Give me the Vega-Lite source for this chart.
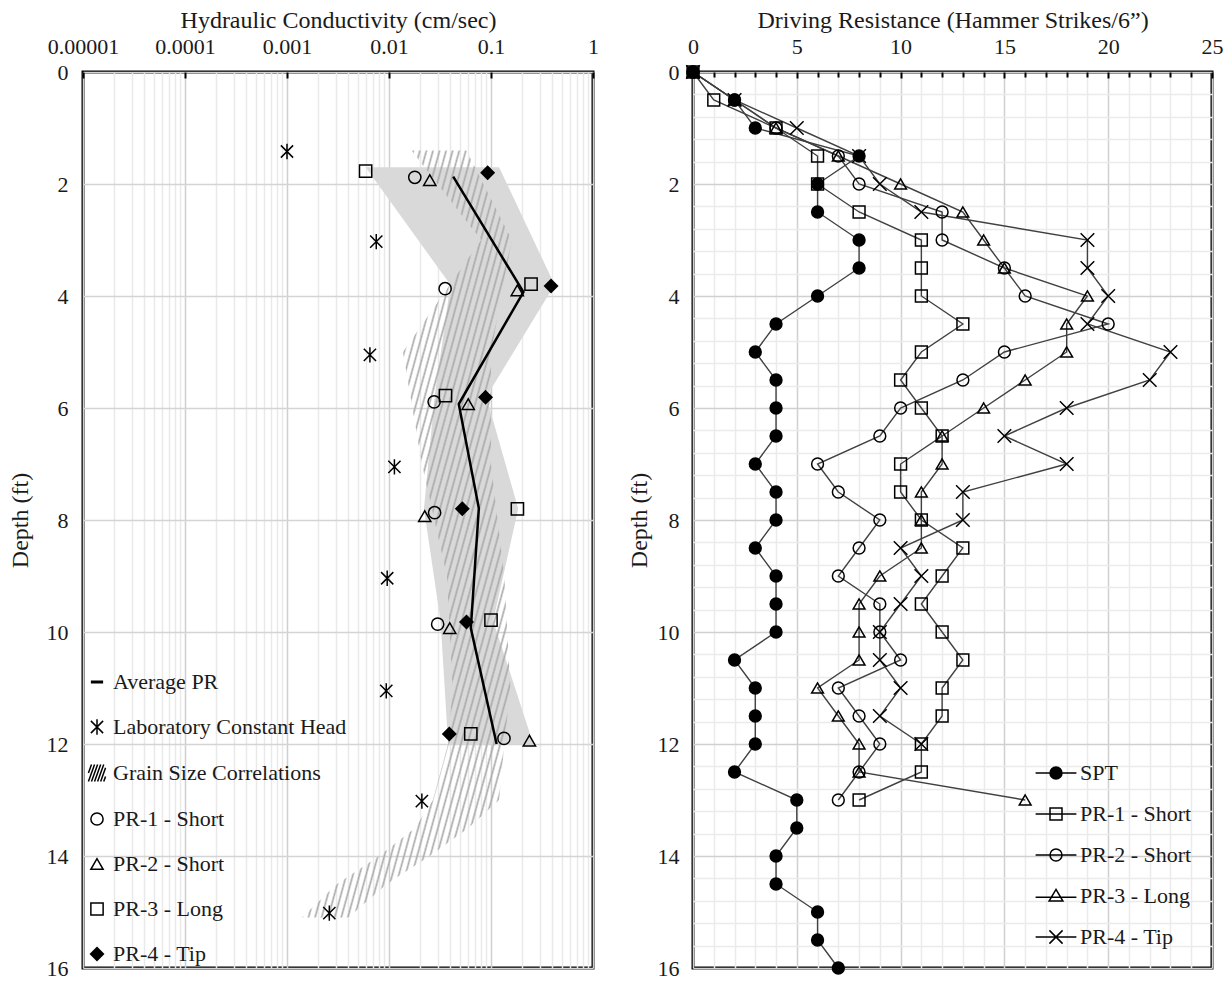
{
  "$schema": "https://vega.github.io/schema/vega-lite/v6.json",
  "padding": {"left": 6, "top": 6, "right": 4, "bottom": 4},
  "background": "white",
  "config": {
    "font": "Liberation Serif",
    "view": {"stroke": "black", "strokeWidth": 3},
    "axis": {"labelFont": "Liberation Serif", "titleFont": "Liberation Serif", "labelFontSize": 22, "titleFontSize": 24, "titleFontWeight": "normal", "labelColor": "#1a1a1a", "titleColor": "#1a1a1a", "domain": false, "labelOverlap": false, "labelFlush": false},
    "legend": {"labelFont": "Liberation Serif", "labelFontSize": 22, "labelColor": "#1a1a1a", "labelLimit": 500, "padding": 0},
    "concat": {"spacing": 25}
  },
  "datasets": {
    "prRange": [
      {"depth": 1.7, "lo": 0.0059, "hi": 0.12},
      {"depth": 3.8, "lo": 0.04, "hi": 0.42},
      {"depth": 5.8, "lo": 0.028, "hi": 0.09},
      {"depth": 7.8, "lo": 0.022, "hi": 0.185},
      {"depth": 9.8, "lo": 0.032, "hi": 0.105},
      {"depth": 12.0, "lo": 0.038, "hi": 0.26}
    ],
    "grain": [
      {"depth": 1.4, "lo": 0.0166, "hi": 0.0575},
      {"depth": 3.0, "lo": 0.08, "hi": 0.16},
      {"depth": 5.0, "lo": 0.0137, "hi": 0.1},
      {"depth": 7.0, "lo": 0.021, "hi": 0.1},
      {"depth": 9.0, "lo": 0.037, "hi": 0.135},
      {"depth": 11.0, "lo": 0.042, "hi": 0.155},
      {"depth": 12.0, "lo": 0.038, "hi": 0.135},
      {"depth": 13.0, "lo": 0.027, "hi": 0.12},
      {"depth": 13.5, "lo": 0.018, "hi": 0.06},
      {"depth": 14.0, "lo": 0.008, "hi": 0.025},
      {"depth": 14.5, "lo": 0.0031, "hi": 0.0095},
      {"depth": 15.1, "lo": 0.0014, "hi": 0.004}
    ],
    "avg": [
      {"depth": 1.87, "k": 0.0426},
      {"depth": 3.93, "k": 0.208},
      {"depth": 5.93, "k": 0.0483},
      {"depth": 7.79, "k": 0.076},
      {"depth": 9.93, "k": 0.0634},
      {"depth": 12.0, "k": 0.1135}
    ],
    "leftPts": [
      {"series": "Laboratory Constant Head", "depth": 1.42, "k": 0.001},
      {"series": "Laboratory Constant Head", "depth": 3.03, "k": 0.0075},
      {"series": "Laboratory Constant Head", "depth": 5.05, "k": 0.0065},
      {"series": "Laboratory Constant Head", "depth": 7.05, "k": 0.0113},
      {"series": "Laboratory Constant Head", "depth": 9.04, "k": 0.0096},
      {"series": "Laboratory Constant Head", "depth": 11.05, "k": 0.0094},
      {"series": "Laboratory Constant Head", "depth": 13.02, "k": 0.021},
      {"series": "Laboratory Constant Head", "depth": 15.02, "k": 0.0026},
      {"series": "PR-1 - Short", "depth": 1.88, "k": 0.0179},
      {"series": "PR-1 - Short", "depth": 3.87, "k": 0.0355},
      {"series": "PR-1 - Short", "depth": 5.89, "k": 0.0277},
      {"series": "PR-1 - Short", "depth": 7.87, "k": 0.028},
      {"series": "PR-1 - Short", "depth": 9.86, "k": 0.030},
      {"series": "PR-1 - Short", "depth": 11.9, "k": 0.134},
      {"series": "PR-2 - Short", "depth": 1.93, "k": 0.0251},
      {"series": "PR-2 - Short", "depth": 3.9, "k": 0.181},
      {"series": "PR-2 - Short", "depth": 5.93, "k": 0.0598},
      {"series": "PR-2 - Short", "depth": 7.93, "k": 0.0224},
      {"series": "PR-2 - Short", "depth": 9.93, "k": 0.0394},
      {"series": "PR-2 - Short", "depth": 11.94, "k": 0.238},
      {"series": "PR-3 - Long", "depth": 1.77, "k": 0.0059},
      {"series": "PR-3 - Long", "depth": 3.79, "k": 0.247},
      {"series": "PR-3 - Long", "depth": 5.78, "k": 0.0358},
      {"series": "PR-3 - Long", "depth": 7.8, "k": 0.1815},
      {"series": "PR-3 - Long", "depth": 9.79, "k": 0.1},
      {"series": "PR-3 - Long", "depth": 11.82, "k": 0.0634},
      {"series": "PR-4 - Tip", "depth": 1.8, "k": 0.0927},
      {"series": "PR-4 - Tip", "depth": 3.82, "k": 0.388},
      {"series": "PR-4 - Tip", "depth": 5.81, "k": 0.0885},
      {"series": "PR-4 - Tip", "depth": 7.8, "k": 0.0523},
      {"series": "PR-4 - Tip", "depth": 9.82, "k": 0.0575},
      {"series": "PR-4 - Tip", "depth": 11.82, "k": 0.039}
    ],
    "right": [
      {"series": "SPT", "depth": 0, "v": 0}, {"series": "SPT", "depth": 0.5, "v": 2}, {"series": "SPT", "depth": 1, "v": 3}, {"series": "SPT", "depth": 1.5, "v": 8},
      {"series": "SPT", "depth": 2, "v": 6}, {"series": "SPT", "depth": 2.5, "v": 6}, {"series": "SPT", "depth": 3, "v": 8}, {"series": "SPT", "depth": 3.5, "v": 8},
      {"series": "SPT", "depth": 4, "v": 6}, {"series": "SPT", "depth": 4.5, "v": 4}, {"series": "SPT", "depth": 5, "v": 3}, {"series": "SPT", "depth": 5.5, "v": 4},
      {"series": "SPT", "depth": 6, "v": 4}, {"series": "SPT", "depth": 6.5, "v": 4}, {"series": "SPT", "depth": 7, "v": 3}, {"series": "SPT", "depth": 7.5, "v": 4},
      {"series": "SPT", "depth": 8, "v": 4}, {"series": "SPT", "depth": 8.5, "v": 3}, {"series": "SPT", "depth": 9, "v": 4}, {"series": "SPT", "depth": 9.5, "v": 4},
      {"series": "SPT", "depth": 10, "v": 4}, {"series": "SPT", "depth": 10.5, "v": 2}, {"series": "SPT", "depth": 11, "v": 3}, {"series": "SPT", "depth": 11.5, "v": 3},
      {"series": "SPT", "depth": 12, "v": 3}, {"series": "SPT", "depth": 12.5, "v": 2}, {"series": "SPT", "depth": 13, "v": 5}, {"series": "SPT", "depth": 13.5, "v": 5},
      {"series": "SPT", "depth": 14, "v": 4}, {"series": "SPT", "depth": 14.5, "v": 4}, {"series": "SPT", "depth": 15, "v": 6}, {"series": "SPT", "depth": 15.5, "v": 6},
      {"series": "SPT", "depth": 16, "v": 7},
      {"series": "PR-1 - Short", "depth": 0, "v": 0}, {"series": "PR-1 - Short", "depth": 0.5, "v": 1}, {"series": "PR-1 - Short", "depth": 1, "v": 4}, {"series": "PR-1 - Short", "depth": 1.5, "v": 6},
      {"series": "PR-1 - Short", "depth": 2, "v": 6}, {"series": "PR-1 - Short", "depth": 2.5, "v": 8}, {"series": "PR-1 - Short", "depth": 3, "v": 11}, {"series": "PR-1 - Short", "depth": 3.5, "v": 11},
      {"series": "PR-1 - Short", "depth": 4, "v": 11}, {"series": "PR-1 - Short", "depth": 4.5, "v": 13}, {"series": "PR-1 - Short", "depth": 5, "v": 11}, {"series": "PR-1 - Short", "depth": 5.5, "v": 10},
      {"series": "PR-1 - Short", "depth": 6, "v": 11}, {"series": "PR-1 - Short", "depth": 6.5, "v": 12}, {"series": "PR-1 - Short", "depth": 7, "v": 10}, {"series": "PR-1 - Short", "depth": 7.5, "v": 10},
      {"series": "PR-1 - Short", "depth": 8, "v": 11}, {"series": "PR-1 - Short", "depth": 8.5, "v": 13}, {"series": "PR-1 - Short", "depth": 9, "v": 12}, {"series": "PR-1 - Short", "depth": 9.5, "v": 11},
      {"series": "PR-1 - Short", "depth": 10, "v": 12}, {"series": "PR-1 - Short", "depth": 10.5, "v": 13}, {"series": "PR-1 - Short", "depth": 11, "v": 12}, {"series": "PR-1 - Short", "depth": 11.5, "v": 12},
      {"series": "PR-1 - Short", "depth": 12, "v": 11}, {"series": "PR-1 - Short", "depth": 12.5, "v": 11}, {"series": "PR-1 - Short", "depth": 13, "v": 8},
      {"series": "PR-2 - Short", "depth": 0, "v": 0}, {"series": "PR-2 - Short", "depth": 0.5, "v": 2}, {"series": "PR-2 - Short", "depth": 1, "v": 4}, {"series": "PR-2 - Short", "depth": 1.5, "v": 7},
      {"series": "PR-2 - Short", "depth": 2, "v": 8}, {"series": "PR-2 - Short", "depth": 2.5, "v": 12}, {"series": "PR-2 - Short", "depth": 3, "v": 12}, {"series": "PR-2 - Short", "depth": 3.5, "v": 15},
      {"series": "PR-2 - Short", "depth": 4, "v": 16}, {"series": "PR-2 - Short", "depth": 4.5, "v": 20}, {"series": "PR-2 - Short", "depth": 5, "v": 15}, {"series": "PR-2 - Short", "depth": 5.5, "v": 13},
      {"series": "PR-2 - Short", "depth": 6, "v": 10}, {"series": "PR-2 - Short", "depth": 6.5, "v": 9}, {"series": "PR-2 - Short", "depth": 7, "v": 6}, {"series": "PR-2 - Short", "depth": 7.5, "v": 7},
      {"series": "PR-2 - Short", "depth": 8, "v": 9}, {"series": "PR-2 - Short", "depth": 8.5, "v": 8}, {"series": "PR-2 - Short", "depth": 9, "v": 7}, {"series": "PR-2 - Short", "depth": 9.5, "v": 9},
      {"series": "PR-2 - Short", "depth": 10, "v": 9}, {"series": "PR-2 - Short", "depth": 10.5, "v": 10}, {"series": "PR-2 - Short", "depth": 11, "v": 7}, {"series": "PR-2 - Short", "depth": 11.5, "v": 8},
      {"series": "PR-2 - Short", "depth": 12, "v": 9}, {"series": "PR-2 - Short", "depth": 12.5, "v": 8}, {"series": "PR-2 - Short", "depth": 13, "v": 7},
      {"series": "PR-3 - Long", "depth": 0, "v": 0}, {"series": "PR-3 - Long", "depth": 0.5, "v": 2}, {"series": "PR-3 - Long", "depth": 1, "v": 4}, {"series": "PR-3 - Long", "depth": 1.5, "v": 7},
      {"series": "PR-3 - Long", "depth": 2, "v": 10}, {"series": "PR-3 - Long", "depth": 2.5, "v": 13}, {"series": "PR-3 - Long", "depth": 3, "v": 14}, {"series": "PR-3 - Long", "depth": 3.5, "v": 15},
      {"series": "PR-3 - Long", "depth": 4, "v": 19}, {"series": "PR-3 - Long", "depth": 4.5, "v": 18}, {"series": "PR-3 - Long", "depth": 5, "v": 18}, {"series": "PR-3 - Long", "depth": 5.5, "v": 16},
      {"series": "PR-3 - Long", "depth": 6, "v": 14}, {"series": "PR-3 - Long", "depth": 6.5, "v": 12}, {"series": "PR-3 - Long", "depth": 7, "v": 12}, {"series": "PR-3 - Long", "depth": 7.5, "v": 11},
      {"series": "PR-3 - Long", "depth": 8, "v": 11}, {"series": "PR-3 - Long", "depth": 8.5, "v": 11}, {"series": "PR-3 - Long", "depth": 9, "v": 9}, {"series": "PR-3 - Long", "depth": 9.5, "v": 8},
      {"series": "PR-3 - Long", "depth": 10, "v": 8}, {"series": "PR-3 - Long", "depth": 10.5, "v": 8}, {"series": "PR-3 - Long", "depth": 11, "v": 6}, {"series": "PR-3 - Long", "depth": 11.5, "v": 7},
      {"series": "PR-3 - Long", "depth": 12, "v": 8}, {"series": "PR-3 - Long", "depth": 12.5, "v": 8}, {"series": "PR-3 - Long", "depth": 13, "v": 16},
      {"series": "PR-4 - Tip", "depth": 0, "v": 0}, {"series": "PR-4 - Tip", "depth": 0.5, "v": 2}, {"series": "PR-4 - Tip", "depth": 1, "v": 5}, {"series": "PR-4 - Tip", "depth": 1.5, "v": 8},
      {"series": "PR-4 - Tip", "depth": 2, "v": 9}, {"series": "PR-4 - Tip", "depth": 2.5, "v": 11}, {"series": "PR-4 - Tip", "depth": 3, "v": 19}, {"series": "PR-4 - Tip", "depth": 3.5, "v": 19},
      {"series": "PR-4 - Tip", "depth": 4, "v": 20}, {"series": "PR-4 - Tip", "depth": 4.5, "v": 19}, {"series": "PR-4 - Tip", "depth": 5, "v": 23}, {"series": "PR-4 - Tip", "depth": 5.5, "v": 22},
      {"series": "PR-4 - Tip", "depth": 6, "v": 18}, {"series": "PR-4 - Tip", "depth": 6.5, "v": 15}, {"series": "PR-4 - Tip", "depth": 7, "v": 18}, {"series": "PR-4 - Tip", "depth": 7.5, "v": 13},
      {"series": "PR-4 - Tip", "depth": 8, "v": 13}, {"series": "PR-4 - Tip", "depth": 8.5, "v": 10}, {"series": "PR-4 - Tip", "depth": 9, "v": 11}, {"series": "PR-4 - Tip", "depth": 9.5, "v": 10},
      {"series": "PR-4 - Tip", "depth": 10, "v": 9}, {"series": "PR-4 - Tip", "depth": 10.5, "v": 9}, {"series": "PR-4 - Tip", "depth": 11, "v": 10}, {"series": "PR-4 - Tip", "depth": 11.5, "v": 9},
      {"series": "PR-4 - Tip", "depth": 12, "v": 11}
    ]
  },
  "hconcat": [
    {
      "width": 510,
      "height": 896,
      "resolve": {"axis": {"x": "independent", "y": "independent"}},
      "layer": [
        {
          "data": {"name": "prRange"},
          "mark": {"type": "area", "orient": "horizontal", "color": "#d9d9d9", "opacity": 1},
          "encoding": {
            "y": {"field": "depth", "type": "quantitative", "scale": {"domain": [0, 16], "reverse": true, "nice": false, "zero": false},
                  "axis": {"orient": "left", "title": "Depth (ft)", "format": "d", "values": [0, 2, 4, 6, 8, 10, 12, 14, 16], "grid": true, "gridColor": "#d4d4d4", "gridWidth": 1.5, "ticks": false, "labelPadding": 15, "titlePadding": 14, "labelOverlap": false}},
            "x": {"field": "lo", "type": "quantitative", "scale": {"type": "log", "domain": [0.00001, 1], "nice": false},
                  "axis": {"orient": "top", "title": "Hydraulic Conductivity (cm/sec)", "format": ".5~f",
                           "values": [0.00001, 0.0001, 0.001, 0.01, 0.1, 1],
                           "grid": true, "gridColor": "#cfcfcf", "gridWidth": 1.5,
                           "ticks": true, "tickSize": -6, "tickColor": "black", "tickWidth": 2,
                           "labelPadding": 20, "titlePadding": 3, "labelOverlap": false}},
            "x2": {"field": "hi"}
          }
        },
        {
          "data": {"name": "grain"},
          "mark": {"type": "area", "orient": "horizontal",
                   "color": {"gradient": "linear", "x1": 0, "y1": 0, "x2": 1, "y2": 1, "stops": [
{"offset":0,"color":"#aaa"},{"offset":0.004,"color":"rgba(170,170,170,0)"},{"offset":0.0115,"color":"rgba(170,170,170,0)"},
{"offset":0.015625,"color":"#aaa"},{"offset":0.019625,"color":"rgba(170,170,170,0)"},{"offset":0.027125,"color":"rgba(170,170,170,0)"},
{"offset":0.03125,"color":"#aaa"},{"offset":0.03525,"color":"rgba(170,170,170,0)"},{"offset":0.04275,"color":"rgba(170,170,170,0)"},
{"offset":0.046875,"color":"#aaa"},{"offset":0.050875,"color":"rgba(170,170,170,0)"},{"offset":0.058375,"color":"rgba(170,170,170,0)"},
{"offset":0.0625,"color":"#aaa"},{"offset":0.0665,"color":"rgba(170,170,170,0)"},{"offset":0.074,"color":"rgba(170,170,170,0)"},
{"offset":0.078125,"color":"#aaa"},{"offset":0.082125,"color":"rgba(170,170,170,0)"},{"offset":0.089625,"color":"rgba(170,170,170,0)"},
{"offset":0.09375,"color":"#aaa"},{"offset":0.09775,"color":"rgba(170,170,170,0)"},{"offset":0.10525,"color":"rgba(170,170,170,0)"},
{"offset":0.109375,"color":"#aaa"},{"offset":0.113375,"color":"rgba(170,170,170,0)"},{"offset":0.120875,"color":"rgba(170,170,170,0)"},
{"offset":0.125,"color":"#aaa"},{"offset":0.129,"color":"rgba(170,170,170,0)"},{"offset":0.1365,"color":"rgba(170,170,170,0)"},
{"offset":0.140625,"color":"#aaa"},{"offset":0.144625,"color":"rgba(170,170,170,0)"},{"offset":0.152125,"color":"rgba(170,170,170,0)"},
{"offset":0.15625,"color":"#aaa"},{"offset":0.16025,"color":"rgba(170,170,170,0)"},{"offset":0.16775,"color":"rgba(170,170,170,0)"},
{"offset":0.171875,"color":"#aaa"},{"offset":0.175875,"color":"rgba(170,170,170,0)"},{"offset":0.183375,"color":"rgba(170,170,170,0)"},
{"offset":0.1875,"color":"#aaa"},{"offset":0.1915,"color":"rgba(170,170,170,0)"},{"offset":0.199,"color":"rgba(170,170,170,0)"},
{"offset":0.203125,"color":"#aaa"},{"offset":0.207125,"color":"rgba(170,170,170,0)"},{"offset":0.214625,"color":"rgba(170,170,170,0)"},
{"offset":0.21875,"color":"#aaa"},{"offset":0.22275,"color":"rgba(170,170,170,0)"},{"offset":0.23025,"color":"rgba(170,170,170,0)"},
{"offset":0.234375,"color":"#aaa"},{"offset":0.238375,"color":"rgba(170,170,170,0)"},{"offset":0.245875,"color":"rgba(170,170,170,0)"},
{"offset":0.25,"color":"#aaa"},{"offset":0.254,"color":"rgba(170,170,170,0)"},{"offset":0.2615,"color":"rgba(170,170,170,0)"},
{"offset":0.265625,"color":"#aaa"},{"offset":0.269625,"color":"rgba(170,170,170,0)"},{"offset":0.277125,"color":"rgba(170,170,170,0)"},
{"offset":0.28125,"color":"#aaa"},{"offset":0.28525,"color":"rgba(170,170,170,0)"},{"offset":0.29275,"color":"rgba(170,170,170,0)"},
{"offset":0.296875,"color":"#aaa"},{"offset":0.300875,"color":"rgba(170,170,170,0)"},{"offset":0.308375,"color":"rgba(170,170,170,0)"},
{"offset":0.3125,"color":"#aaa"},{"offset":0.3165,"color":"rgba(170,170,170,0)"},{"offset":0.324,"color":"rgba(170,170,170,0)"},
{"offset":0.328125,"color":"#aaa"},{"offset":0.332125,"color":"rgba(170,170,170,0)"},{"offset":0.339625,"color":"rgba(170,170,170,0)"},
{"offset":0.34375,"color":"#aaa"},{"offset":0.34775,"color":"rgba(170,170,170,0)"},{"offset":0.35525,"color":"rgba(170,170,170,0)"},
{"offset":0.359375,"color":"#aaa"},{"offset":0.363375,"color":"rgba(170,170,170,0)"},{"offset":0.370875,"color":"rgba(170,170,170,0)"},
{"offset":0.375,"color":"#aaa"},{"offset":0.379,"color":"rgba(170,170,170,0)"},{"offset":0.3865,"color":"rgba(170,170,170,0)"},
{"offset":0.390625,"color":"#aaa"},{"offset":0.394625,"color":"rgba(170,170,170,0)"},{"offset":0.402125,"color":"rgba(170,170,170,0)"},
{"offset":0.40625,"color":"#aaa"},{"offset":0.41025,"color":"rgba(170,170,170,0)"},{"offset":0.41775,"color":"rgba(170,170,170,0)"},
{"offset":0.421875,"color":"#aaa"},{"offset":0.425875,"color":"rgba(170,170,170,0)"},{"offset":0.433375,"color":"rgba(170,170,170,0)"},
{"offset":0.4375,"color":"#aaa"},{"offset":0.4415,"color":"rgba(170,170,170,0)"},{"offset":0.449,"color":"rgba(170,170,170,0)"},
{"offset":0.453125,"color":"#aaa"},{"offset":0.457125,"color":"rgba(170,170,170,0)"},{"offset":0.464625,"color":"rgba(170,170,170,0)"},
{"offset":0.46875,"color":"#aaa"},{"offset":0.47275,"color":"rgba(170,170,170,0)"},{"offset":0.48025,"color":"rgba(170,170,170,0)"},
{"offset":0.484375,"color":"#aaa"},{"offset":0.488375,"color":"rgba(170,170,170,0)"},{"offset":0.495875,"color":"rgba(170,170,170,0)"},
{"offset":0.5,"color":"#aaa"},{"offset":0.504,"color":"rgba(170,170,170,0)"},{"offset":0.5115,"color":"rgba(170,170,170,0)"},
{"offset":0.515625,"color":"#aaa"},{"offset":0.519625,"color":"rgba(170,170,170,0)"},{"offset":0.527125,"color":"rgba(170,170,170,0)"},
{"offset":0.53125,"color":"#aaa"},{"offset":0.53525,"color":"rgba(170,170,170,0)"},{"offset":0.54275,"color":"rgba(170,170,170,0)"},
{"offset":0.546875,"color":"#aaa"},{"offset":0.550875,"color":"rgba(170,170,170,0)"},{"offset":0.558375,"color":"rgba(170,170,170,0)"},
{"offset":0.5625,"color":"#aaa"},{"offset":0.5665,"color":"rgba(170,170,170,0)"},{"offset":0.574,"color":"rgba(170,170,170,0)"},
{"offset":0.578125,"color":"#aaa"},{"offset":0.582125,"color":"rgba(170,170,170,0)"},{"offset":0.589625,"color":"rgba(170,170,170,0)"},
{"offset":0.59375,"color":"#aaa"},{"offset":0.59775,"color":"rgba(170,170,170,0)"},{"offset":0.60525,"color":"rgba(170,170,170,0)"},
{"offset":0.609375,"color":"#aaa"},{"offset":0.613375,"color":"rgba(170,170,170,0)"},{"offset":0.620875,"color":"rgba(170,170,170,0)"},
{"offset":0.625,"color":"#aaa"},{"offset":0.629,"color":"rgba(170,170,170,0)"},{"offset":0.6365,"color":"rgba(170,170,170,0)"},
{"offset":0.640625,"color":"#aaa"},{"offset":0.644625,"color":"rgba(170,170,170,0)"},{"offset":0.652125,"color":"rgba(170,170,170,0)"},
{"offset":0.65625,"color":"#aaa"},{"offset":0.66025,"color":"rgba(170,170,170,0)"},{"offset":0.66775,"color":"rgba(170,170,170,0)"},
{"offset":0.671875,"color":"#aaa"},{"offset":0.675875,"color":"rgba(170,170,170,0)"},{"offset":0.683375,"color":"rgba(170,170,170,0)"},
{"offset":0.6875,"color":"#aaa"},{"offset":0.6915,"color":"rgba(170,170,170,0)"},{"offset":0.699,"color":"rgba(170,170,170,0)"},
{"offset":0.703125,"color":"#aaa"},{"offset":0.707125,"color":"rgba(170,170,170,0)"},{"offset":0.714625,"color":"rgba(170,170,170,0)"},
{"offset":0.71875,"color":"#aaa"},{"offset":0.72275,"color":"rgba(170,170,170,0)"},{"offset":0.73025,"color":"rgba(170,170,170,0)"},
{"offset":0.734375,"color":"#aaa"},{"offset":0.738375,"color":"rgba(170,170,170,0)"},{"offset":0.745875,"color":"rgba(170,170,170,0)"},
{"offset":0.75,"color":"#aaa"},{"offset":0.754,"color":"rgba(170,170,170,0)"},{"offset":0.7615,"color":"rgba(170,170,170,0)"},
{"offset":0.765625,"color":"#aaa"},{"offset":0.769625,"color":"rgba(170,170,170,0)"},{"offset":0.777125,"color":"rgba(170,170,170,0)"},
{"offset":0.78125,"color":"#aaa"},{"offset":0.78525,"color":"rgba(170,170,170,0)"},{"offset":0.79275,"color":"rgba(170,170,170,0)"},
{"offset":0.796875,"color":"#aaa"},{"offset":0.800875,"color":"rgba(170,170,170,0)"},{"offset":0.808375,"color":"rgba(170,170,170,0)"},
{"offset":0.8125,"color":"#aaa"},{"offset":0.8165,"color":"rgba(170,170,170,0)"},{"offset":0.824,"color":"rgba(170,170,170,0)"},
{"offset":0.828125,"color":"#aaa"},{"offset":0.832125,"color":"rgba(170,170,170,0)"},{"offset":0.839625,"color":"rgba(170,170,170,0)"},
{"offset":0.84375,"color":"#aaa"},{"offset":0.84775,"color":"rgba(170,170,170,0)"},{"offset":0.85525,"color":"rgba(170,170,170,0)"},
{"offset":0.859375,"color":"#aaa"},{"offset":0.863375,"color":"rgba(170,170,170,0)"},{"offset":0.870875,"color":"rgba(170,170,170,0)"},
{"offset":0.875,"color":"#aaa"},{"offset":0.879,"color":"rgba(170,170,170,0)"},{"offset":0.8865,"color":"rgba(170,170,170,0)"},
{"offset":0.890625,"color":"#aaa"},{"offset":0.894625,"color":"rgba(170,170,170,0)"},{"offset":0.902125,"color":"rgba(170,170,170,0)"},
{"offset":0.90625,"color":"#aaa"},{"offset":0.91025,"color":"rgba(170,170,170,0)"},{"offset":0.91775,"color":"rgba(170,170,170,0)"},
{"offset":0.921875,"color":"#aaa"},{"offset":0.925875,"color":"rgba(170,170,170,0)"},{"offset":0.933375,"color":"rgba(170,170,170,0)"},
{"offset":0.9375,"color":"#aaa"},{"offset":0.9415,"color":"rgba(170,170,170,0)"},{"offset":0.949,"color":"rgba(170,170,170,0)"},
{"offset":0.953125,"color":"#aaa"},{"offset":0.957125,"color":"rgba(170,170,170,0)"},{"offset":0.964625,"color":"rgba(170,170,170,0)"},
{"offset":0.96875,"color":"#aaa"},{"offset":0.97275,"color":"rgba(170,170,170,0)"},{"offset":0.98025,"color":"rgba(170,170,170,0)"},
{"offset":0.984375,"color":"#aaa"},{"offset":0.988375,"color":"rgba(170,170,170,0)"},{"offset":0.995875,"color":"rgba(170,170,170,0)"},
{"offset":1,"color":"#aaa"}
                   ]}},
          "encoding": {
            "y": {"field": "depth", "type": "quantitative", "axis": null},
            "x": {"field": "lo", "type": "quantitative",
                  "axis": {"orient": "bottom", "title": null, "labels": false, "ticks": false, "domain": false,
                           "values": [0.00002, 0.00003, 0.00004, 0.00005, 0.00006, 0.00007, 0.00008, 0.00009, 0.0002, 0.0003, 0.0004, 0.0005, 0.0006, 0.0007, 0.0008, 0.0009, 0.002, 0.003, 0.004, 0.005, 0.006, 0.007, 0.008, 0.009, 0.02, 0.03, 0.04, 0.05, 0.06, 0.07, 0.08, 0.09, 0.2, 0.3, 0.4, 0.5, 0.6, 0.7, 0.8, 0.9],
                           "grid": true, "gridColor": "#e9e9e9", "gridWidth": 1.5}},
            "x2": {"field": "hi"}
          }
        },
        {
          "data": {"name": "avg"},
          "mark": {"type": "line", "color": "black", "strokeWidth": 2.5},
          "encoding": {
            "y": {"field": "depth", "type": "quantitative", "axis": null},
            "x": {"field": "k", "type": "quantitative", "axis": null},
            "order": {"field": "depth", "type": "quantitative"}
          }
        },
        {
          "data": {"name": "leftPts"},
          "mark": {"type": "point", "opacity": 1, "filled": false, "stroke": "black", "strokeWidth": 1.5, "fill": "transparent", "size": 150},
          "encoding": {
            "y": {"field": "depth", "type": "quantitative", "axis": null},
            "x": {"field": "k", "type": "quantitative", "axis": null},
            "shape": {"field": "series", "type": "nominal",
              "scale": {"domain": ["Average PR", "Laboratory Constant Head", "Grain Size Correlations", "PR-1 - Short", "PR-2 - Short", "PR-3 - Long", "PR-4 - Tip"],
                        "range": ["M-1,-0.13L1,-0.13M-1,0.13L1,0.13M-1,0L1,0",
                                  "M-1,-1L1,1M-1,1L1,-1M0,-1.25L0,1.25",
                                  "M-1.4,0L-0.9,-1.4M-1.4,1.4L-0.4,-1.4M-0.9,1.4L0.1,-1.4M-0.4,1.4L0.6,-1.4M0.1,1.4L1.1,-1.4M0.6,1.4L1.4,-0.84M1.1,1.4L1.4,0.56",
                                  "circle", "triangle-up", "square",
                                  "M0,-1.05L1.05,0L0,1.05L-1.05,0ZM-0.25,-0.8L0.25,-0.8M-0.45,-0.6L0.45,-0.6M-0.65,-0.4L0.65,-0.4M-0.85,-0.2L0.85,-0.2M-1,0L1,0M-0.85,0.2L0.85,0.2M-0.65,0.4L0.65,0.4M-0.45,0.6L0.45,0.6M-0.25,0.8L0.25,0.8"]},
              "legend": {"title": null, "orient": "bottom-left", "offset": 3, "symbolSize": 150, "labelOffset": 5, "rowPadding": 23, "symbolOpacity": 1, "symbolStrokeWidth": 1.5, "symbolStrokeColor": "black", "symbolFillColor": "transparent"}}
          }
        }
      ]
    },
    {
      "width": 519,
      "height": 896,
      "resolve": {"scale": {"shape": "independent"}, "axis": {"x": "independent", "y": "independent"}},
      "layer": [
        {
          "data": {"name": "right"},
          "mark": {"type": "line", "color": "#404040", "strokeWidth": 1.4},
          "encoding": {
            "y": {"field": "depth", "type": "quantitative", "scale": {"domain": [0, 16], "reverse": true, "nice": false, "zero": false},
                  "axis": {"orient": "left", "title": "Depth (ft)", "format": "d",
                           "values": [0, 2, 4, 6, 8, 10, 12, 14, 16],
                           "grid": true, "gridColor": "#d0d0d0", "gridWidth": 1.5,
                           "ticks": false, "labelPadding": 14, "titlePadding": 6, "labelOverlap": false}},
            "x": {"field": "v", "type": "quantitative", "scale": {"domain": [0, 25], "nice": false, "zero": true},
                  "axis": {"orient": "top", "title": "Driving Resistance (Hammer Strikes/6”)",
                           "values": [0, 5, 10, 15, 20, 25],
                           "grid": true, "gridColor": "#d0d0d0", "gridWidth": 1.5,
                           "ticks": true, "tickSize": -6, "tickColor": "black", "tickWidth": 2,
                           "labelPadding": 20, "titlePadding": 3, "labelOverlap": false}},
            "detail": {"field": "series", "type": "nominal"},
            "order": {"field": "depth", "type": "quantitative"}
          }
        },
        {
          "data": {"name": "right"},
          "mark": {"type": "point", "stroke": "black", "strokeWidth": 1.5, "size": 140, "opacity": 1},
          "encoding": {
            "y": {"field": "depth", "type": "quantitative",
                  "axis": {"orient": "right", "title": null, "labels": false, "ticks": false, "domain": false,
                           "values": [0.4, 0.8, 1.2, 1.6, 2.4, 2.8, 3.2, 3.6, 4.4, 4.8, 5.2, 5.6, 6.4, 6.8, 7.2, 7.6, 8.4, 8.8, 9.2, 9.6, 10.4, 10.8, 11.2, 11.6, 12.4, 12.8, 13.2, 13.6, 14.4, 14.8, 15.2, 15.6],
                           "grid": true, "gridColor": "#ebebeb", "gridWidth": 1.5}},
            "x": {"field": "v", "type": "quantitative",
                  "axis": {"orient": "top", "title": null, "labels": false, "domain": false,
                           "values": [1, 2, 3, 4, 6, 7, 8, 9, 11, 12, 13, 14, 16, 17, 18, 19, 21, 22, 23, 24],
                           "grid": true, "gridColor": "#ebebeb", "gridWidth": 1.5,
                           "ticks": true, "tickSize": -5, "tickColor": "black", "tickWidth": 2}},
            "fill": {"condition": {"test": "datum.series === 'SPT'", "value": "black"}, "value": "transparent"},
            "shape": {"field": "series", "type": "nominal",
              "scale": {"domain": ["SPT", "PR-1 - Short", "PR-2 - Short", "PR-3 - Long", "PR-4 - Tip"],
                        "range": ["circle", "square", "circle", "triangle-up", "M-1.15,-1.15L1.15,1.15M-1.15,1.15L1.15,-1.15"]},
              "legend": null}
          }
        },
        {
          "data": {"name": "right"},
          "mark": {"type": "point", "opacity": 0, "size": 144, "stroke": "black", "strokeWidth": 1.5, "fill": "transparent", "filled": false},
          "encoding": {
            "y": {"field": "depth", "type": "quantitative", "axis": null},
            "x": {"field": "v", "type": "quantitative", "axis": null},
            "shape": {"field": "series", "type": "nominal",
              "scale": {"domain": ["SPT", "PR-1 - Short", "PR-2 - Short", "PR-3 - Long", "PR-4 - Tip"],
                        "range": ["M-1,0A1,1,0,1,1,1,0A1,1,0,1,1,-1,0ZM-0.6,-0.8L0.6,-0.8M-0.8,-0.6L0.8,-0.6M-0.92,-0.4L0.92,-0.4M-0.98,-0.2L0.98,-0.2M-3.4,0L3.4,0M-0.98,0.2L0.98,0.2M-0.92,0.4L0.92,0.4M-0.8,0.6L0.8,0.6M-0.6,0.8L0.6,0.8",
                                  "M-1,-1L1,-1L1,1L-1,1ZM-3.4,0L3.4,0",
                                  "M-1,0A1,1,0,1,1,1,0A1,1,0,1,1,-1,0ZM-3.4,0L3.4,0",
                                  "M0,-1.1L1.15,0.85L-1.15,0.85ZM-3.4,0.2L3.4,0.2",
                                  "M-1.1,-1.1L1.1,1.1M-1.1,1.1L1.1,-1.1M-3.4,0L3.4,0"]},
              "legend": {"title": null, "orient": "bottom-right", "offset": 20, "symbolSize": 144, "labelOffset": 13, "rowPadding": 19, "symbolOpacity": 1, "symbolStrokeWidth": 1.5, "symbolStrokeColor": "black", "symbolFillColor": "transparent"}}
          }
        }
      ]
    }
  ]
}
